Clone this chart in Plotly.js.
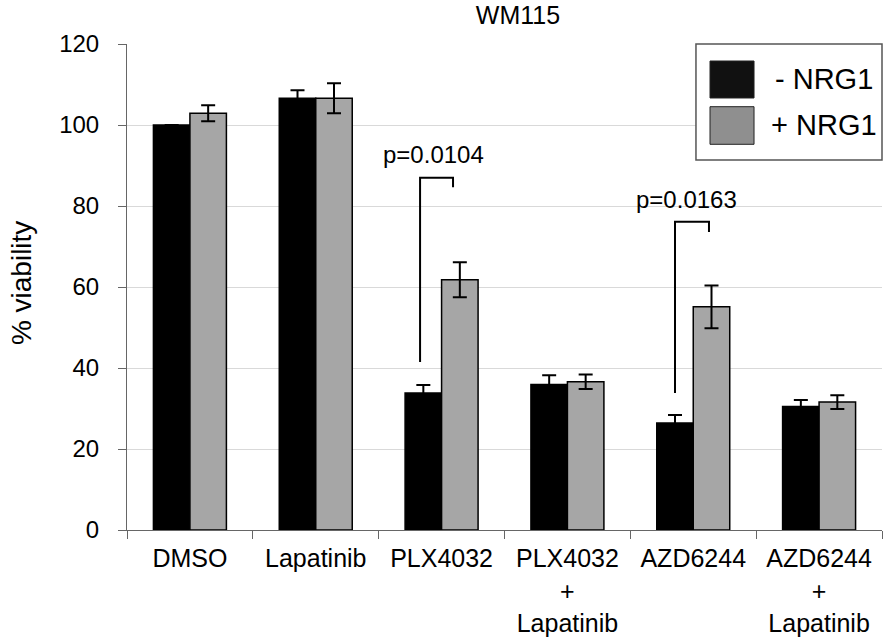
<!DOCTYPE html>
<html>
<head>
<meta charset="utf-8">
<script src="https://cdn.plot.ly/plotly-3.0.1.min.js"></script>
<style>html,body{margin:0;padding:0;background:#fff;}#chart{width:887px;height:643px;}</style>
</head>
<body>
<div id="chart"></div>
<script>
// ---- data ----
const catLabels = ['DMSO', 'Lapatinib', 'PLX4032', 'PLX4032<br>+<br>Lapatinib', 'AZD6244', 'AZD6244<br>+<br>Lapatinib'];
const seriesNames = ['- NRG1', '+ NRG1'];
const minusNRG1 = [100, 106.6, 33.8, 35.9, 26.4, 30.5];
const minusNRG1Err = [0, 2.0, 2.0, 2.3, 2.0, 1.6];
const plusNRG1 = [102.9, 106.6, 61.8, 36.6, 55.1, 31.6];
const plusNRG1Err = [2.0, 3.7, 4.3, 1.8, 5.3, 1.7];
const yTicks = [0, 20, 40, 60, 80, 100, 120];
const chartTitle = 'WM115';
const yTitle = '% viability';
// significance brackets
const pLabels = ['p=0.0104', 'p=0.0163'];
const bracketLeftX = [1.829, 3.855];
const bracketRightX = [2.091, 4.125];
const bracketTop = [87.0, 76.1];
const bracketLeftBottom = [41.5, 33.8];
const bracketRightBottom = [84.6, 73.6];
const pLabelX = [1.932, 3.949];
const pLabelY = [92.6, 81.5];

const colors = ['#000000', '#a6a6a6'];
const legendSwatch = ['#111111', '#8f8f8f'];
const FONT = 'Liberation Sans, Arial, sans-serif';

const traces = [
  {type: 'bar', name: seriesNames[0], x: catLabels, y: minusNRG1,
   marker: {color: colors[0], line: {color: '#000', width: 1.5}},
   error_y: {type: 'data', array: minusNRG1Err, visible: true, color: '#000', thickness: 2, width: 7},
   showlegend: false},
  {type: 'bar', name: seriesNames[1], x: catLabels, y: plusNRG1,
   marker: {color: colors[1], line: {color: '#000', width: 1.5}},
   error_y: {type: 'data', array: plusNRG1Err, visible: true, color: '#000', thickness: 2, width: 7},
   showlegend: false}
];

const shapes = [];
const annotations = [];
for (let i = 0; i < pLabels.length; i++) {
  shapes.push({type: 'path', xref: 'x', yref: 'y',
    path: `M ${bracketLeftX[i]} ${bracketLeftBottom[i]} L ${bracketLeftX[i]} ${bracketTop[i]} L ${bracketRightX[i]} ${bracketTop[i]} L ${bracketRightX[i]} ${bracketRightBottom[i]}`,
    line: {color: '#000', width: 2}});
  annotations.push({xref: 'x', yref: 'y', x: pLabelX[i], y: pLabelY[i], text: pLabels[i],
    showarrow: false, font: {family: FONT, size: 24, color: '#000'}, xanchor: 'center', yanchor: 'middle'});
}
// custom legend
shapes.push({type: 'rect', xref: 'paper', yref: 'paper', x0: 0.7536, x1: 1.0, y0: 0.7613, y1: 1.0,
  fillcolor: '#fff', line: {color: '#555', width: 1.5}, layer: 'above'});
const swY = [[0.8889, 0.965], [0.7936, 0.871]];
const txtY = [0.928, 0.833];
const txtX = [0.8555, 0.850];
for (let i = 0; i < 2; i++) {
  shapes.push({type: 'rect', xref: 'paper', yref: 'paper', x0: 0.7722, x1: 0.8305, y0: swY[i][0], y1: swY[i][1],
    fillcolor: legendSwatch[i], line: {color: '#222', width: 1}, layer: 'above'});
  annotations.push({xref: 'paper', yref: 'paper', x: txtX[i], y: txtY[i], text: seriesNames[i], showarrow: false,
    xanchor: 'left', yanchor: 'middle', font: {family: FONT, size: 29, color: '#000'}});
}
// y-axis title
annotations.push({xref: 'paper', yref: 'paper', x: -0.1404, y: 0.508, text: yTitle, textangle: -90,
  showarrow: false, xanchor: 'center', yanchor: 'middle', font: {family: FONT, size: 28, color: '#000'}});

const layout = {
  width: 887, height: 643,
  margin: {l: 127, r: 5, t: 44, b: 113, pad: 0},
  paper_bgcolor: '#fff', plot_bgcolor: '#fff',
  font: {family: FONT, color: '#000'},
  title: {text: chartTitle, font: {family: FONT, size: 25, color: '#000'},
    xref: 'container', yref: 'container', x: 0.584, y: 0.976, xanchor: 'center', yanchor: 'middle'},
  barmode: 'group', bargap: 0.42, bargroupgap: 0,
  showlegend: false,
  xaxis: {type: 'category', range: [-0.5, 5.5], showgrid: false, zeroline: false,
    showline: true, linecolor: '#666', linewidth: 1,
    ticks: 'outside', tickson: 'boundaries', ticklen: 8, tickcolor: '#666', tickwidth: 1,
    tickfont: {family: FONT, size: 25, color: '#000'}, ticklabelstandoff: 6, fixedrange: true},
  yaxis: {range: [0, 120], tickvals: yTicks, showgrid: true, gridcolor: '#d9d9d9', gridwidth: 1,
    zeroline: false, showline: true, linecolor: '#666', linewidth: 1,
    ticks: 'outside', ticklen: 8, tickcolor: '#666', tickwidth: 1,
    tickfont: {family: FONT, size: 24, color: '#000'}, ticklabelstandoff: 14, fixedrange: true},
  shapes: shapes,
  annotations: annotations
};

Plotly.newPlot('chart', traces, layout, {displayModeBar: false, staticPlot: true});
</script>
</body>
</html>
